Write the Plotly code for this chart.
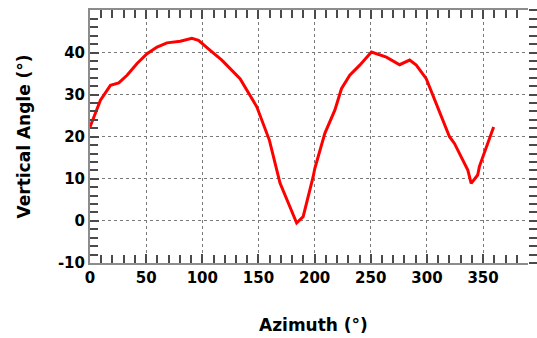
import plotly.graph_objects as go

# Horizon profile: vertical angle against azimuth
azimuth = [0, 9.3, 18.2, 25.6, 33, 41.9, 50.8, 59.7, 68.5, 80.4, 90.7, 96.6, 107, 117.4,
           133.6, 148.5, 159.7, 169.2, 184, 189.8, 198.7, 200.2, 209.1, 218, 223.9, 231.3,
           240.2, 250.6, 263.9, 275.7, 284.6, 290.5, 299.4, 308.3, 320.1, 324.5, 336.4,
           339.4, 345.2, 346.7, 354.1, 359.4]
vertical_angle = [22.3, 28.7, 32.2, 32.8, 34.6, 37.4, 39.7, 41.3, 42.3, 42.7, 43.4, 42.9, 40.5,
                  38.2, 33.8, 27.1, 19.2, 9.0, -0.5, 1.0, 10.5, 12.5, 20.8, 26.3, 31.4, 34.6,
                  37.0, 40.1, 38.9, 37.1, 38.2, 37.0, 33.8, 27.9, 20.0, 18.4, 12.1, 8.9, 10.9,
                  12.9, 18.4, 22.3]

x_ticks = [0, 50, 100, 150, 200, 250, 300, 350]
y_ticks = [-10, 0, 10, 20, 30, 40]
x_minor = list(range(0, 391, 10))
y_minor = list(range(-10, 51, 2))

x_range = [0, 390]
y_range = [-10, 50.1]

x_title = "Azimuth (°)"
y_title = "Vertical Angle (°)"

font_family = "DejaVu Sans"
tick_font = dict(family=font_family, size=15, color="#000000", weight="bold")
title_font = dict(family=font_family, size=17, color="#000000", weight="bold")
tick_color = "#4a4a4a"
line_color = "#8c8c8c"
grid_color = "#7a7a7a"

fig = go.Figure()
fig.add_trace(go.Scatter(
    x=azimuth, y=vertical_angle, mode="lines",
    line=dict(color="#ff0000", width=3),
    hoverinfo="skip", showlegend=False,
))
# invisible companion trace so the right-hand tick axis is drawn
fig.add_trace(go.Scatter(
    x=[x_range[0]], y=[y_range[0]], yaxis="y2", mode="markers",
    marker=dict(opacity=0), hoverinfo="skip", showlegend=False,
))

minor_style = dict(ticks="inside", ticklen=8, tickwidth=1.5, tickcolor=tick_color, showgrid=False)

fig.update_layout(
    width=537, height=338,
    margin=dict(l=90, r=9, t=10, b=75),
    paper_bgcolor="#ffffff", plot_bgcolor="#ffffff",
    xaxis=dict(
        range=x_range, tickmode="array", tickvals=x_ticks,
        ticktext=[str(v) for v in x_ticks],
        showline=True, linecolor=line_color, linewidth=2, mirror="ticks",
        ticks="inside", ticklen=9, tickwidth=1.5, tickcolor=tick_color,
        showgrid=True, gridcolor=grid_color, griddash="dot", gridwidth=1,
        zeroline=False, tickfont=tick_font, automargin=False,
        minor=dict(tickmode="array", tickvals=x_minor, **minor_style),
    ),
    yaxis=dict(
        range=y_range, tickmode="array", tickvals=y_ticks,
        ticktext=[str(v) for v in y_ticks],
        showline=True, linecolor=line_color, linewidth=2, mirror=False,
        ticks="inside", ticklen=9, tickwidth=1.5, tickcolor=tick_color,
        showgrid=True, gridcolor=grid_color, griddash="dot", gridwidth=1,
        zeroline=False, tickfont=tick_font, automargin=False,
        minor=dict(tickmode="array", tickvals=y_minor, **minor_style),
    ),
    yaxis2=dict(
        overlaying="y", side="right", range=y_range,
        tickmode="array", tickvals=y_ticks, showticklabels=False,
        showline=False, showgrid=False, zeroline=False, automargin=False,
        ticks="outside", ticklen=8, tickwidth=1.5, tickcolor=tick_color,
        minor=dict(tickmode="array", tickvals=y_minor, ticks="outside", ticklen=8,
                   tickwidth=1.5, tickcolor=tick_color, showgrid=False),
    ),
    annotations=[
        dict(text=x_title, xref="paper", yref="paper", x=0.5, y=0,
             xanchor="center", yanchor="middle", xshift=4, yshift=-62,
             showarrow=False, font=title_font),
        dict(text=y_title, xref="paper", yref="paper", x=0, y=0.5,
             xanchor="center", yanchor="middle", xshift=-67, textangle=-90,
             showarrow=False, font=title_font),
    ],
)

fig.write_html("out.html")
